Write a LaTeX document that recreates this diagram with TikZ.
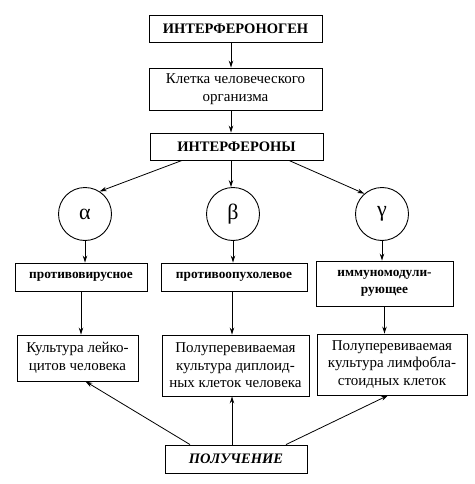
\documentclass[tikz,border=0pt]{standalone}
\usepackage{fontspec}
\setmainfont{Liberation Serif}
\usetikzlibrary{arrows.meta,calc}
\begin{document}
\begin{tikzpicture}[x=1pt,y=-1pt,
  box/.style={draw,line width=0.9pt,inner sep=1pt,align=center,font=\fontsize{15}{17.5}\selectfont},
  bbox/.style={box,font=\fontsize{14.5}{17}\selectfont\bfseries},
  sbox/.style={box,font=\fontsize{13.3}{17}\selectfont\bfseries},
  circ/.style={draw,circle,line width=0.9pt,minimum size=53pt,inner sep=0pt,font=\fontsize{22}{22}\selectfont},
  arr/.style={line width=0.8pt,-{Stealth[length=7pt,width=4.5pt]}}]
\useasboundingbox (0,0) rectangle (474,484);
\node[bbox,minimum width=173pt,minimum height=27pt] (b1) at (235.5,28.5) {ИНТЕРФЕРОНОГЕН};
\node[box,minimum width=173pt,minimum height=42pt] (b2) at (235.5,89) {Клетка человеческого\\организма};
\node[bbox,minimum width=173pt,minimum height=27pt] (b3) at (236.5,146.5) {ИНТЕРФЕРОНЫ};
\node[circ] (al) at (85,214) {α};
\node[circ] (be) at (233,214) {β};
\node[circ] (ga) at (382,214) {γ};
\node[sbox,minimum width=132pt,minimum height=28pt] (a4) at (81,277) {противовирусное};
\node[sbox,minimum width=146pt,minimum height=28pt] (b4) at (234,277) {противоопухолевое};
\node[sbox,minimum width=137pt,minimum height=45pt] (c4) at (384.5,283.5) {иммуномодули-\\рующее};
\node[box,minimum width=121pt,minimum height=46pt] (a5) at (77.5,358) {Культура лейко-\\цитов человека};
\node[box,minimum width=147pt,minimum height=61pt] (b5) at (235.5,365.5) {Полуперевиваемая\\культура диплоид-\\ных клеток человека};
\node[box,minimum width=150pt,minimum height=61pt] (c5) at (392,364.5) {Полуперевиваемая\\культура лимфобла-\\стоидных клеток};
\node[box,minimum width=142pt,minimum height=28pt,font=\fontsize{14.5}{17}\selectfont\bfseries\itshape] (p) at (236,459) {ПОЛУЧЕНИЕ};
\coordinate (xm) at (231,0);
\coordinate (xl) at (182,0);
\coordinate (xr) at (289,0);
\coordinate (pl) at (190,0);
\coordinate (pm) at (232,0);
\coordinate (pr) at (286,0);
\draw[arr] (b1.south -| xm) -- (b2.north -| xm);
\draw[arr] (b2.south -| xm) -- (b3.north -| xm);
\draw[arr] (b3.south -| xl) -- (al.57);
\draw[arr] (b3.south -| xm) -- (be.north -| xm);
\draw[arr] (b3.south -| xr) -- (ga.131);
\draw[arr] (al.south) -- (al.south |- a4.north);
\draw[arr] (be.south) -- (be.south |- b4.north);
\draw[arr] (ga.south) -- (ga.south |- c4.north);
\draw[arr] (a4.south) -- (a4.south |- a5.north);
\draw[arr] (b4.south -| pm) -- (b5.north -| pm);
\draw[arr] (c4.south) -- (c4.south |- c5.north);
\draw[arr] (p.north -| pl) -- ($(a5.south)+(8,0)$);
\draw[arr] (p.north -| pm) -- (b5.south -| pm);
\draw[arr] (p.north -| pr) -- ($(c5.south)+(-4,0)$);
\end{tikzpicture}
\end{document}
